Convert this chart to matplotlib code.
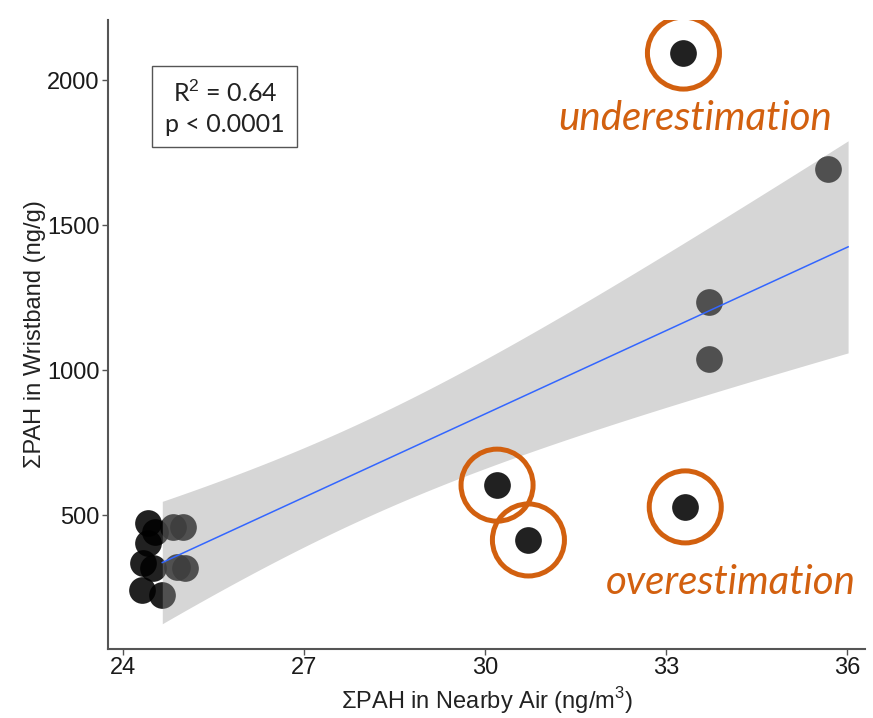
import numpy as np
import matplotlib
matplotlib.use("Agg")
import matplotlib.pyplot as plt
from matplotlib.patches import Rectangle

plt.rcParams["mathtext.fontset"] = "custom"
plt.rcParams["mathtext.rm"] = "Liberation Sans"

# Data (air vs wristband PAH)
air = [24.41, 24.53, 24.41, 24.33, 24.50, 24.32, 24.65, 24.83, 25.00, 24.90, 25.03,
       30.20, 30.72, 33.29, 33.32, 33.72, 33.72, 35.69]
wristband = [472, 441, 403, 334, 317, 241, 224, 459, 459, 321, 317,
             603, 414, 2093, 528, 1234, 1038, 1693]
under_idx = [13]
over_idx = [11, 12, 14]
fit_range = (24.65, 36.02)
xticks = [24, 27, 30, 33, 36]
yticks = [500, 1000, 1500, 2000]

orange = "#D2600F"

x = np.array(air)
y = np.array(wristband)

# linear fit + 95% confidence band (like geom_smooth(method="lm"))
n = len(x)
slope, icpt = np.polyfit(x, y, 1)
resid = y - (slope * x + icpt)
s = np.sqrt(np.sum(resid ** 2) / (n - 2))
sxx = np.sum((x - x.mean()) ** 2)
t_crit = 2.12  # t(0.975, df=16)
xf = np.linspace(fit_range[0], fit_range[1], 100)
yf = slope * xf + icpt
se = s * np.sqrt(1 / n + (xf - x.mean()) ** 2 / sxx)

fig = plt.figure(figsize=(8.73, 7.18), dpi=100)
ax = fig.add_axes([108 / 873, 1 - 649 / 718, (865 - 108) / 873, (649 - 20) / 718])

ax.scatter(x, y, s=370, color="black", alpha=0.87, linewidths=0, zorder=2)
ax.fill_between(xf, yf - t_crit * se, yf + t_crit * se, color="#999999", alpha=0.4,
                linewidth=0, zorder=3)
ax.plot(xf, yf, color="#3366FF", lw=1.1, zorder=4)

# rings around the odd points
ax.scatter(x[under_idx + over_idx], y[under_idx + over_idx], s=2690, facecolors="none",
           edgecolors=orange, linewidths=3.6, zorder=5)

ax.text(33.49, 1869, "underestimation", color=orange, fontsize=29, style="italic",
        family="Lato", ha="center", va="center")
ax.text(34.07, 269, "overestimation", color=orange, fontsize=29, style="italic",
        family="Lato", ha="center", va="center")

# stats box
bx0, by0 = (152 - 108) / 757, (649 - 147) / 629
ax.add_patch(Rectangle((bx0, by0), 145 / 757, 81 / 629, transform=ax.transAxes,
                       facecolor="white", edgecolor="#555555", lw=1.0, zorder=6))
ax.text((225 - 108) / 757, (649 - 93) / 629, "R$^\\mathrm{2}$ = 0.64", transform=ax.transAxes,
        ha="center", va="center", fontsize=18, family="Lato", color="#222222", zorder=7)
ax.text((225 - 108) / 757, (649 - 125) / 629, "p < 0.0001", transform=ax.transAxes,
        ha="center", va="center", fontsize=18, family="Lato", color="#222222", zorder=7)

ax.set_xlim(23.75, 36.3)
ax.set_ylim(38, 2207)
ax.set_xticks(xticks)
ax.set_yticks(yticks)
for side in ["top", "right"]:
    ax.spines[side].set_visible(False)
for side in ["left", "bottom"]:
    ax.spines[side].set_color("#555555")
    ax.spines[side].set_linewidth(1.5)
ax.tick_params(length=4, width=1, color="#555555", labelsize=17, pad=2)
for lab in ax.get_xticklabels() + ax.get_yticklabels():
    lab.set_family("Liberation Sans")
    lab.set_color("#1a1a1a")

ax.set_xlabel("ΣPAH in Nearby Air (ng/m$^\\mathrm{3}$)", fontsize=17,
              family="Liberation Sans", color="#222222", labelpad=4)
ax.set_ylabel("ΣPAH in Wristband (ng/g)", fontsize=17, family="Liberation Sans",
              color="#222222", labelpad=1)

fig.savefig("out.png", dpi=100)
